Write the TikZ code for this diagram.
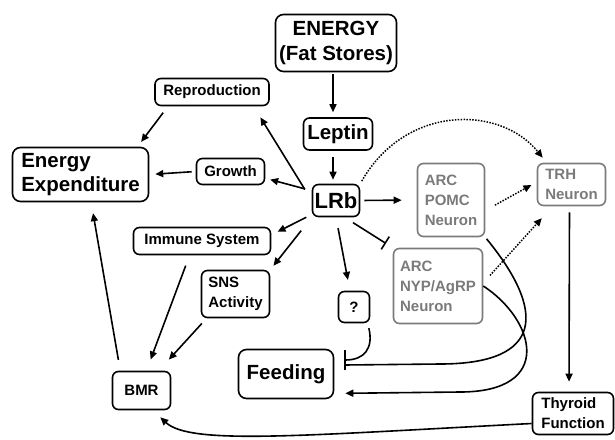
\documentclass[tikz,border=0pt]{standalone}
\usepackage{fontspec}
\setmainfont{Liberation Sans}
\usetikzlibrary{arrows.meta}
\definecolor{neurongray}{HTML}{7A7A7A}
\begin{document}
\begin{tikzpicture}[x=1pt,y=-1pt,
  box/.style={draw,line width=1.6pt,rounded corners=6pt,inner sep=1pt,align=center,font=\fontsize{15}{20}\selectfont\bfseries},
  bigbox/.style={box,rounded corners=8pt,font=\fontsize{20.5}{24.5}\selectfont\bfseries},
  gbox/.style={box,draw=neurongray,text=neurongray,align=left},
  arr/.style={-{Triangle[length=8pt,width=7pt]},line width=1.6pt},
  inh/.style={-{Bar[width=20pt,line width=1.6pt]},line width=1.6pt},
  dotarr/.style={-{Triangle[length=8pt,width=7pt]},line width=1.5pt,dash pattern=on 1.5pt off 1.4pt}]
\useasboundingbox (0,0) rectangle (615,439);
\node[bigbox,minimum width=121pt,minimum height=57pt] (en) at (336,43) {ENERGY\\(Fat Stores)};
\node[bigbox,rounded corners=6pt,minimum width=69pt,minimum height=32pt] (lep) at (338,134) {Leptin};
\node[bigbox,rounded corners=6pt,font=\fontsize{22}{24}\selectfont\bfseries,minimum width=47pt,minimum height=32pt] (lrb) at (336,200.5) {LRb};
\node[box,minimum width=114pt,minimum height=27pt] (rep) at (212,92) {Reproduction};
\node[bigbox,align=left,minimum width=136pt,minimum height=54pt] (ee) at (80.5,174.5) {Energy\\Expenditure};
\node[box,minimum width=68pt,minimum height=26pt] (grow) at (230.5,171.5) {Growth};
\node[box,minimum width=137pt,minimum height=27pt] (imm) at (202,241) {Immune System};
\node[box,align=left,minimum width=68pt,minimum height=47pt] (sns) at (235.5,294) {SNS\\Activity};
\node[box,minimum width=58pt,minimum height=38pt] (bmr) at (141.5,390.5) {BMR};
\node[bigbox,minimum width=95pt,minimum height=49pt] (feed) at (286,374) {Feeding};
\node[box,minimum width=31pt,minimum height=31pt] (q) at (354,307) {?};
\node[gbox,minimum width=67pt,minimum height=73pt] (pomc) at (451,200) {ARC\\POMC\\Neuron};
\node[gbox,minimum width=89pt,minimum height=75pt] (nyp) at (438,286) {ARC\\NYP/AgRP\\Neuron};
\node[gbox,minimum width=68pt,minimum height=42pt] (trh) at (571.5,184.5) {TRH\\Neuron};
\node[box,align=left,minimum width=81pt,minimum height=42pt] (thy) at (573,413.5) {Thyroid\\Function};
\draw[arr,shorten <=2pt,shorten >=5pt] ([xshift=-3pt]en.south) -- ([xshift=-5pt]lep.north);
\draw[arr,shorten <=6pt,shorten >=4pt] ([xshift=-5pt]lep.south) -- ([xshift=-3pt]lrb.north);
\draw[arr,shorten <=13pt,shorten >=13pt] (lrb.west) -- (rep.-19);
\draw[arr,shorten <=7pt,shorten >=5pt] (lrb.158) -- (grow.-11);
\draw[arr,shorten <=6pt,shorten >=7pt] (lrb.-150) -- (imm.5);
\draw[arr,shorten <=17pt,shorten >=5pt] (lrb.south west) -- (sns.north east);
\draw[arr,shorten <=11pt,shorten >=11pt] (lrb.south) -- (q.104);
\draw[-{Bar[width=15pt,line width=1.6pt]},line width=1.6pt,shorten <=10pt,shorten >=8pt] (lrb.-63) -- (nyp.north west);
\draw[arr,shorten <=4pt,shorten >=15pt] (lrb.east) -- (pomc.west);
\draw[dotarr,shorten <=3pt] (lrb.north east) .. controls +(45,-79) and +(-43,-53) .. ([xshift=6pt,yshift=5pt]trh.north west);
\draw[dotarr,shorten <=11pt,shorten >=6pt] (pomc.-17) -- (trh.176);
\draw[dotarr,shorten <=10pt,shorten >=16pt] (nyp.4) -- (trh.-131);
\draw[arr,shorten <=6pt,shorten >=10pt] ([xshift=-2pt]trh.south) -- ([xshift=-4pt]thy.north);
\draw[line width=1.6pt,shorten <=2pt] (pomc.south east) .. controls +(60,73) and +(105,0) .. (440,364) -- ([xshift=10pt,yshift=9pt]feed.east);
\draw[inh,shorten <=5pt] (q.-50) .. controls +(6,25) and +(20,0) .. ([xshift=10pt,yshift=14pt]feed.east);
\draw[arr] (nyp.east) .. controls +(52,34) and +(95,0) .. (460,392) -- ([xshift=11pt,yshift=6pt]feed.south east);
\draw[arr] ([yshift=-10pt]thy.west) .. controls +(-232,12) and +(30,28) .. ([xshift=-11pt,yshift=-7pt]bmr.south east);
\draw[arr,shorten <=11pt,shorten >=12pt] (imm.-131) -- (bmr.76);
\draw[arr,shorten <=7pt,shorten >=15pt] (sns.-140) -- (bmr.49);
\draw[arr,shorten <=11pt,shorten >=11pt] (bmr.137) -- (ee.-69);
\draw[arr,shorten <=8pt,shorten >=6pt] (rep.-162) -- (ee.26);
\draw[arr,shorten <=4pt,shorten >=6pt] (grow.west) -- (ee.east);
\end{tikzpicture}
\end{document}
